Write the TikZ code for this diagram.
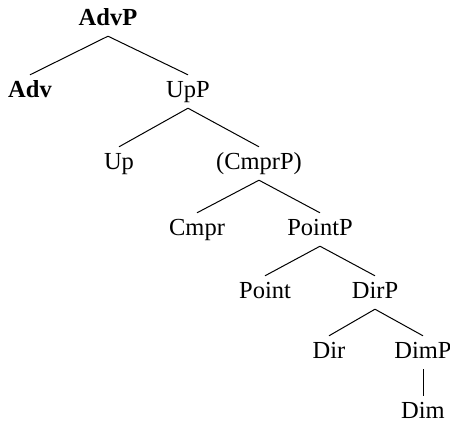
\documentclass[tikz,border=0pt]{standalone}
\usepackage{fontspec}
\setmainfont{Liberation Serif}
\begin{document}
\begin{tikzpicture}[x=1pt,y=-1pt,
        cat/.style={anchor=base,font=\fontsize{24.5}{28}\selectfont,
            text height=16pt,text depth=5pt,inner ysep=6pt}]
        \useasboundingbox (0,0) rectangle (450,424);
        \node[cat] (advp) at (108,25) {\bfseries AdvP};
        \node[cat] (adv) at (30,97) {\bfseries Adv};
        \node[cat] (upp) at (188,97) {UpP};
        \node[cat] (up) at (119,169) {Up};
        \node[cat] (cmprp) at (259,169) {(CmprP)};
        \node[cat] (cmpr) at (197,235) {Cmpr};
        \node[cat] (pointp) at (320,235) {PointP};
        \node[cat] (point) at (265,298) {Point};
        \node[cat] (dirp) at (375,298) {DirP};
        \node[cat] (dir) at (329,358) {Dir};
        \node[cat] (dimp) at (423,358) {DimP};
        \node[cat] (dim) at (423,418) {Dim};
        \draw[line width=1pt] (advp.south) -- (adv.north);
        \draw[line width=1pt] (advp.south) -- (upp.north);
        \draw[line width=1pt] (upp.south) -- (up.north);
        \draw[line width=1pt] (upp.south) -- (cmprp.north);
        \draw[line width=1pt] (cmprp.south) -- (cmpr.north);
        \draw[line width=1pt] (cmprp.south) -- (pointp.north);
        \draw[line width=1pt] (pointp.south) -- (point.north);
        \draw[line width=1pt] (pointp.south) -- (dirp.north);
        \draw[line width=1pt] (dirp.south) -- (dir.north);
        \draw[line width=1pt] (dirp.south) -- (dimp.north);
        \draw[line width=1pt] (dimp.south) -- (dim.north);
    \end{tikzpicture}
\end{document}
